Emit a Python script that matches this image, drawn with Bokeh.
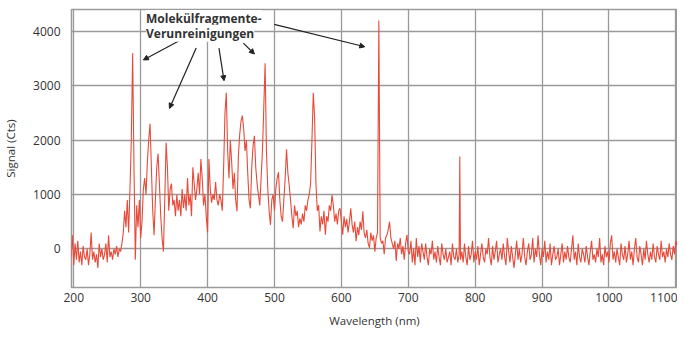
from bokeh.plotting import figure
from bokeh.models import FixedTicker, Range1d, Label, Arrow, NormalHead
from bokeh.embed import file_html
from bokeh.resources import INLINE

# ---- data ----
wl_a = [196, 198, 200, 202, 204, 206, 208, 210, 212, 214, 216, 218, 220, 222, 224, 226, 228, 230, 232, 234,
        236, 238, 240, 242, 244, 246, 248, 250, 252, 254, 256, 258, 260, 262, 264, 266, 268, 270]
sig_a = [-150, 250, -300, 100, -200, 150, -250, -50, -300, 50, -150, -200, 0, -300, -100, 300, -200, -50, -250, -100,
         -350, 100, -150, 0, -200, -100, 100, -250, 250, -150, -50, -200, 0, -100, 50, -150, 0, -50]

wl_b = [272, 274, 276, 278, 280, 282, 284, 286, 288, 290, 292, 294, 296, 298, 300, 302, 304, 306, 308, 310,
        312, 314, 316, 318, 320, 322, 324, 326, 328, 330, 332, 334, 336, 338, 340, 342, 344, 346, 348, 350,
        352, 354, 356, 358, 360, 362, 364, 366, 368, 370, 372, 374, 376, 378, 380, 382, 384, 386, 388, 390,
        392, 394, 396, 398, 400, 402, 404, 406, 408, 410, 412, 414, 416, 418, 420]
sig_b = [100, 300, 700, 400, 900, 300, 1100, 2000, 3600, 1500, -200, 800, 400, 900, 200, 500, 1100, 1300, 1000, 1600,
         2000, 2300, 1500, 700, 250, 900, 1500, 1750, 1200, 600, 200, -50, 900, 1950, 1500, 700, 1100, 1200, 800, 900,
         600, 1000, 700, 900, 600, 1100, 750, 1000, 700, 1300, 800, 1000, 600, 1500, 1200, 900, 1100, 1400, 1000, 1650,
         1300, 800, 1000, 600, 300, 1650, 1100, 850, 1000, 900, 1230, 900, 800, 1000, 900]

wl_c = [422, 424, 426, 428, 430, 432, 434, 436, 438, 440, 442, 444, 446, 448, 450, 452, 454, 456, 458, 460,
        462, 464, 466, 468, 470, 472, 474, 476, 478, 480, 482, 484, 486, 488, 490, 492, 494, 496, 498, 500,
        502, 504, 506, 508, 510, 512, 514, 516, 518, 520, 522, 524, 526, 528, 530, 532, 534, 536, 538, 540,
        542, 544, 546, 548, 550, 552, 554, 556, 558, 560, 562, 564, 566, 568, 570, 572, 574, 576, 578, 580,
        582, 584, 586, 588, 590, 592, 594, 596, 598, 600, 602, 604, 606, 608, 610, 612, 614, 616, 618, 620,
        622, 624, 626, 628, 630, 632, 634, 636, 638, 640, 642, 644, 646, 648, 650, 652, 654, 656, 658, 660,
        662, 664, 666, 668, 670, 672, 674, 676, 678, 680, 682, 684, 686, 688, 690, 692, 694, 696, 698, 700]
sig_c = [700, 1500, 2500, 2870, 1800, 1300, 2000, 1600, 1100, 1400, 900, 690, 1700, 2100, 2350, 2450, 2200, 1800, 2000, 1400,
         900, 745, 1500, 1900, 2080, 1500, 1200, 1000, 800, 1300, 1800, 2600, 3410, 1800, 1100, 700, 440, 900, 1000, 700,
         1100, 1300, 1410, 900, 600, 500, 900, 1300, 1830, 1400, 1170, 900, 600, 380, 800, 600, 700, 400, 560, 450,
         650, 500, 800, 700, 900, 1000, 1200, 2000, 2870, 2400, 1200, 700, 806, 320, 600, 450, 700, 260, 600, 500,
         800, 700, 990, 800, 500, 650, 450, 700, 745, 500, 260, 600, 400, 550, 300, 500, 745, 450, 300, 500,
         140, 400, 250, 500, 350, 690, 300, 200, 350, 100, 20, 300, 150, 250, -50, 200, 300, 4200, 200, 100,
         150, -100, 200, 250, 350, 500, 200, 100, 0, 150, -220, 100, 0, 200, -100, 50, -200, 100, 260, -50]

wl_d = [702, 704, 706, 708, 710, 712, 714, 716, 718, 720,
        722, 724, 726, 728, 730, 732, 734, 736, 738, 740,
        742, 744, 746, 748, 750, 752, 754, 756, 758, 760,
        762, 764, 766, 768, 770, 772, 774, 776, 777, 778,
        780, 782, 784, 786, 788, 790, 792, 794, 796, 798, 800,
        802, 804, 806, 808, 810, 812, 814, 816, 818, 820,
        822, 824, 826, 828, 830, 832, 834, 836, 838, 840,
        842, 844, 846, 848, 850, 852, 854, 856, 858, 860,
        862, 864, 866, 868, 870, 872, 874, 876, 878, 880,
        882, 884, 886, 888, 890, 892, 894, 896, 898, 900,
        902, 904, 906, 908, 910, 912, 914, 916, 918, 920,
        922, 924, 926, 928, 930, 932, 934, 936, 938, 940,
        942, 944, 946, 948, 950, 952, 954, 956, 958, 960,
        962, 964, 966, 968, 970, 972, 974, 976, 978, 980,
        982, 984, 986, 988, 990, 992, 994, 996, 998, 1000,
        1002, 1004, 1006, 1008, 1010, 1012, 1014, 1016, 1018, 1020,
        1022, 1024, 1026, 1028, 1030, 1032, 1034, 1036, 1038, 1040,
        1042, 1044, 1046, 1048, 1050, 1052, 1054, 1056, 1058, 1060,
        1062, 1064, 1066, 1068, 1070, 1072, 1074, 1076, 1078, 1080,
        1082, 1084, 1086, 1088, 1090, 1092, 1094, 1096, 1098, 1100,
        1102, 1104]
sig_d = [-100, 150, -250, 0, -300, 200, -150, 50, -250, 100,
         -50, -200, 100, -150, -300, 0, -100, 150, -200, -50,
         -250, 50, -150, -300, 100, -100, -200, 0, -250, -150,
         -50, -300, 100, -150, -200, 0, -250, -100, 1700, -200,
         -50, -250, 100, -150, -300, 50, -200, -100, 150, -250, -50,
         -200, 50, -300, -100, 100, -150, -250, 0, -100, 200,
         -150, -300, 50, -200, -50, 150, -250, -100, 0, -200,
         100, -150, -300, 200, -50, -250, 50, -150, -350, -100,
         150, -200, 0, -250, -100, 200, -150, -300, -50, 100,
         -200, -100, 200, -250, 0, -150, 250, -100, -300, 0,
         -150, 150, -250, -50, -200, 100, -300, -100, 50, -200,
         -150, 0, -300, -100, 100, -250, -50, -200, 50, -150,
         -250, 0, 250, -200, -50, -300, 100, -150, -250, 0,
         -100, -250, 50, -150, -300, -50, 150, -200, -100, -250,
         0, -150, 200, -250, -100, -300, 50, -150, -50, -250,
         100, 250, -200, -50, -250, 0, -150, -300, 100, -100,
         -200, 50, -250, -100, 150, -200, -50, -300, 0, 200,
         -150, -250, 50, -100, -300, 0, -200, 150, -100, -250,
         -50, -200, 100, -150, -250, 50, -100, -200, 150, -150,
         -50, -250, 0, -150, 100, -100, -200, 50, -100, 150,
         50, 100]

wavelength = wl_a + wl_b + wl_c + wl_d
signal = sig_a + sig_b + sig_c + sig_d

x_ticks = [200, 300, 400, 500, 600, 700, 800, 900, 1000, 1100]
y_ticks = [0, 1000, 2000, 3000, 4000]

note_lines = ["Molekülfragmente-", "Verunreinigungen"]
note_x = 308
note_y = [4236, 3964]

arrow_x0 = [359, 383, 417, 453.5, 499.6]
arrow_y0 = [3836, 3691, 3691, 3782, 4127]
arrow_x1 = [304, 343, 424.6, 470, 635]
arrow_y1 = [3473, 2582, 3091, 3582, 3715]

# ---- figure ----
p = figure(width=677, height=330, output_backend="svg", toolbar_location=None,
           x_range=Range1d(196.6, 1102.4), y_range=Range1d(-710, 4400),
           min_border_left=67, min_border_right=0, min_border_top=9, min_border_bottom=40)

p.background_fill_color = "white"
p.border_fill_color = "white"
p.outline_line_color = "#9a9a9a"
p.outline_line_width = 1.5

p.xgrid.grid_line_color = "#9a9a9a"
p.ygrid.grid_line_color = "#9a9a9a"
p.xgrid.grid_line_width = 1.3
p.ygrid.grid_line_width = 1.3
p.xaxis.ticker = FixedTicker(ticks=x_ticks)
p.yaxis.ticker = FixedTicker(ticks=y_ticks)

for ax in (p.xaxis[0], p.yaxis[0]):
    ax.axis_line_color = None
    ax.major_tick_line_color = None
    ax.minor_tick_line_color = None
    ax.major_label_text_font = "Open Sans"
    ax.major_label_text_font_size = "12px"
    ax.major_label_text_color = "#333333"
    ax.axis_label_text_font = "Open Sans"
    ax.axis_label_text_font_size = "11.5px"
    ax.axis_label_text_font_style = "normal"
    ax.axis_label_text_color = "#333333"

p.xaxis.axis_label = "Wavelength (nm)"
p.yaxis.axis_label = "Signal (Cts)"
p.xaxis.major_label_standoff = -1
p.yaxis.major_label_standoff = 5
p.xaxis.axis_label_standoff = 8
p.yaxis.axis_label_standoff = 12

p.line(wavelength, signal, line_color="#e84a3a", line_width=1.1)

for i in range(len(arrow_x0)):
    p.add_layout(Arrow(x_start=arrow_x0[i], y_start=arrow_y0[i], x_end=arrow_x1[i], y_end=arrow_y1[i],
                       line_color="#222222", line_width=1.2,
                       end=NormalHead(size=5, fill_color="#222222", line_color="#222222")))

for txt, yy in zip(note_lines, note_y):
    p.add_layout(Label(x=note_x, y=yy, text=txt, text_baseline="middle", text_align="left",
                       text_font="Open Sans", text_font_size="12px", text_font_style="bold",
                       text_color="#333333", background_fill_color="white"))

open("out.html", "w").write(file_html(p, INLINE))
